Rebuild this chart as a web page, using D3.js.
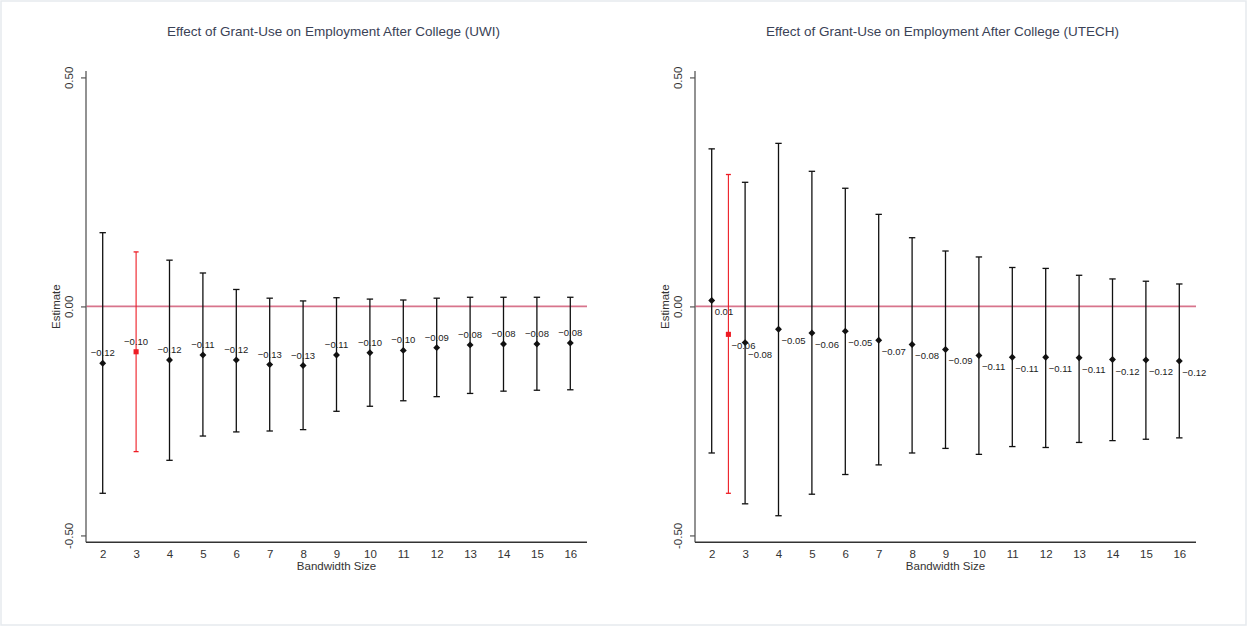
<!DOCTYPE html>
<html><head><meta charset="utf-8">
<script src="https://cdn.jsdelivr.net/npm/d3@7"></script>
<style>
html,body{margin:0;padding:0;background:#fff;}
svg{display:block;font-family:"Liberation Sans",Arial,sans-serif;}
</style></head>
<body><svg id="c" width="1247" height="627"></svg>
<script>
// ---------- data ----------
const bandwidths = [2,3,4,5,6,7,8,9,10,11,12,13,14,15,16];
const xTicks = [2,3,4,5,6,7,8,9,10,11,12,13,14,15,16];
const yTicks = [0.5, 0, -0.5];
const yTickLabels = ["0.50","0.00","-0.50"];

// UWI (black series; bandwidth 3 is the highlighted one)
const uwiBw  = [2,4,5,6,7,8,9,10,11,12,13,14,15,16];
const uwiEst = [-0.124,-0.117,-0.106,-0.117,-0.127,-0.129,-0.106,-0.101,-0.096,-0.090,-0.084,-0.082,-0.082,-0.080];
const uwiLo  = [-0.408,-0.336,-0.283,-0.274,-0.272,-0.269,-0.229,-0.218,-0.206,-0.197,-0.190,-0.185,-0.183,-0.182];
const uwiHi  = [0.161,0.101,0.073,0.037,0.018,0.012,0.019,0.016,0.014,0.018,0.020,0.020,0.020,0.020];
const uwiOptBw = [3];
const uwiOptEst = [-0.099];
const uwiOptLo = [-0.317];
const uwiOptHi = [0.119];

// UTECH
const utechBw  = [2,3,4,5,6,7,8,9,10,11,12,13,14,15,16];
const utechEst = [0.013,-0.079,-0.050,-0.058,-0.054,-0.074,-0.083,-0.094,-0.107,-0.111,-0.111,-0.112,-0.116,-0.117,-0.119];
const utechLo  = [-0.320,-0.431,-0.457,-0.410,-0.367,-0.346,-0.320,-0.310,-0.323,-0.306,-0.308,-0.297,-0.293,-0.290,-0.287];
const utechHi  = [0.344,0.271,0.356,0.295,0.258,0.201,0.150,0.121,0.108,0.085,0.083,0.068,0.060,0.055,0.049];
const utechOptBw = [2.5];
const utechOptEst = [-0.061];
const utechOptLo = [-0.408];
const utechOptHi = [0.288];

const titles = ["Effect of Grant-Use on Employment After College (UWI)",
                "Effect of Grant-Use on Employment After College (UTECH)"];
const xTitle = "Bandwidth Size";
const yTitle = "Estimate";

// ---------- drawing ----------
const svg = d3.select("#c");
svg.append("rect").attr("x",1).attr("y",1).attr("width",1245).attr("height",624)
  .attr("fill","#fff").attr("stroke","#e6eaee").attr("stroke-width",1.5);

const fmt = d3.format(".2f");

function panel(left, right, black, opt, title, labelPos){
  const top = 71, bottom = 542.3;
  const x = d3.scaleLinear().domain([1.5,16.5]).range([left,right]);
  const y = d3.scaleLinear().domain([-0.515,0.514]).range([bottom,top]);
  const g = svg.append("g");
  const mid = (left+right)/2;

  g.append("text").attr("x",mid-3).attr("y",35.5).attr("text-anchor","middle")
    .attr("font-size",13.5).attr("fill","#3a4256").text(title);

  // zero line
  g.append("line").attr("x1",left).attr("x2",right).attr("y1",y(0)).attr("y2",y(0))
    .attr("stroke","#d8748c").attr("stroke-width",1.6);

  // axes
  const ya = d3.axisLeft(y).tickValues(yTicks).tickSize(5).tickFormat((d,i)=>yTickLabels[i]);
  const yg = g.append("g").attr("transform",`translate(${left},0)`).call(ya);
  yg.select(".domain").attr("d",`M0,${top}V${bottom}`).attr("stroke","#777").attr("stroke-width",1.6);
  yg.selectAll(".tick line").attr("stroke","#555").attr("stroke-width",1.2);
  yg.selectAll(".tick text").attr("transform","rotate(-90)").attr("x",0).attr("y",-13)
    .attr("dy","0").attr("text-anchor","middle").attr("font-size",11.5).attr("fill","#333")
    .style("font-family","Liberation Sans, Arial, sans-serif");

  const xa = d3.axisBottom(x).tickValues(xTicks).tickSize(0).tickFormat(d3.format("d"));
  const xg = g.append("g").attr("transform",`translate(0,${bottom})`).call(xa);
  xg.select(".domain").attr("d",`M${left},0H${right}`).attr("stroke","#333").attr("stroke-width",1.5);
  xg.selectAll(".tick text").attr("y",8).attr("dy","0.71em").attr("font-size",11.5).attr("fill","#333")
    .style("font-family","Liberation Sans, Arial, sans-serif");

  g.append("text").attr("x",mid).attr("y",570).attr("text-anchor","middle")
    .attr("font-size",11.5).attr("fill","#333").text(xTitle);
  g.append("text").attr("transform",`translate(${left-26},${(top+bottom)/2}) rotate(-90)`)
    .attr("text-anchor","middle").attr("font-size",11.5).attr("fill","#333").text(yTitle);

  function series(bw, est, lo, hi, color, capW, rot, size, sw){
    const d = bw.map((b,i)=>({b, e:est[i], lo:lo[i], hi:hi[i]}));
    const s = g.append("g");
    s.selectAll("line.v").data(d).join("line")
      .attr("x1",d=>x(d.b)).attr("x2",d=>x(d.b)).attr("y1",d=>y(d.lo)).attr("y2",d=>y(d.hi))
      .attr("stroke",color).attr("stroke-width",sw);
    s.selectAll("line.c1").data(d).join("line")
      .attr("x1",d=>x(d.b)-capW).attr("x2",d=>x(d.b)+capW).attr("y1",d=>y(d.hi)).attr("y2",d=>y(d.hi))
      .attr("stroke",color).attr("stroke-width",1.3);
    s.selectAll("line.c2").data(d).join("line")
      .attr("x1",d=>x(d.b)-capW).attr("x2",d=>x(d.b)+capW).attr("y1",d=>y(d.lo)).attr("y2",d=>y(d.lo))
      .attr("stroke",color).attr("stroke-width",1.3);
    s.selectAll("path.m").data(d).join("path")
      .attr("transform",d=>`translate(${x(d.b)},${y(d.e)}) rotate(${rot})`)
      .attr("d",d3.symbol().type(d3.symbolSquare).size(size)).attr("fill",color);
    s.selectAll("text.l").data(d).join("text")
      .attr("x",d=> labelPos==="above" ? x(d.b) : x(d.b)+3)
      .attr("y",d=> labelPos==="above" ? y(d.e)-7 : y(d.e)+15)
      .attr("text-anchor",labelPos==="above" ? "middle" : "start")
      .attr("font-size",9.5).attr("fill","#222").text(d=>fmt(d.e));
  }
  series(black.bw, black.est, black.lo, black.hi, "#111", 3.2, 45, 24, 1.3);
  series(opt.bw, opt.est, opt.lo, opt.hi, "#ee1c24", 2.5, 0, 26, 1.1);
}

panel(86, 587, {bw:uwiBw, est:uwiEst, lo:uwiLo, hi:uwiHi},
      {bw:uwiOptBw, est:uwiOptEst, lo:uwiOptLo, hi:uwiOptHi}, titles[0], "above");
panel(695, 1196, {bw:utechBw, est:utechEst, lo:utechLo, hi:utechHi},
      {bw:utechOptBw, est:utechOptEst, lo:utechOptLo, hi:utechOptHi}, titles[1], "below");
</script></body></html>
